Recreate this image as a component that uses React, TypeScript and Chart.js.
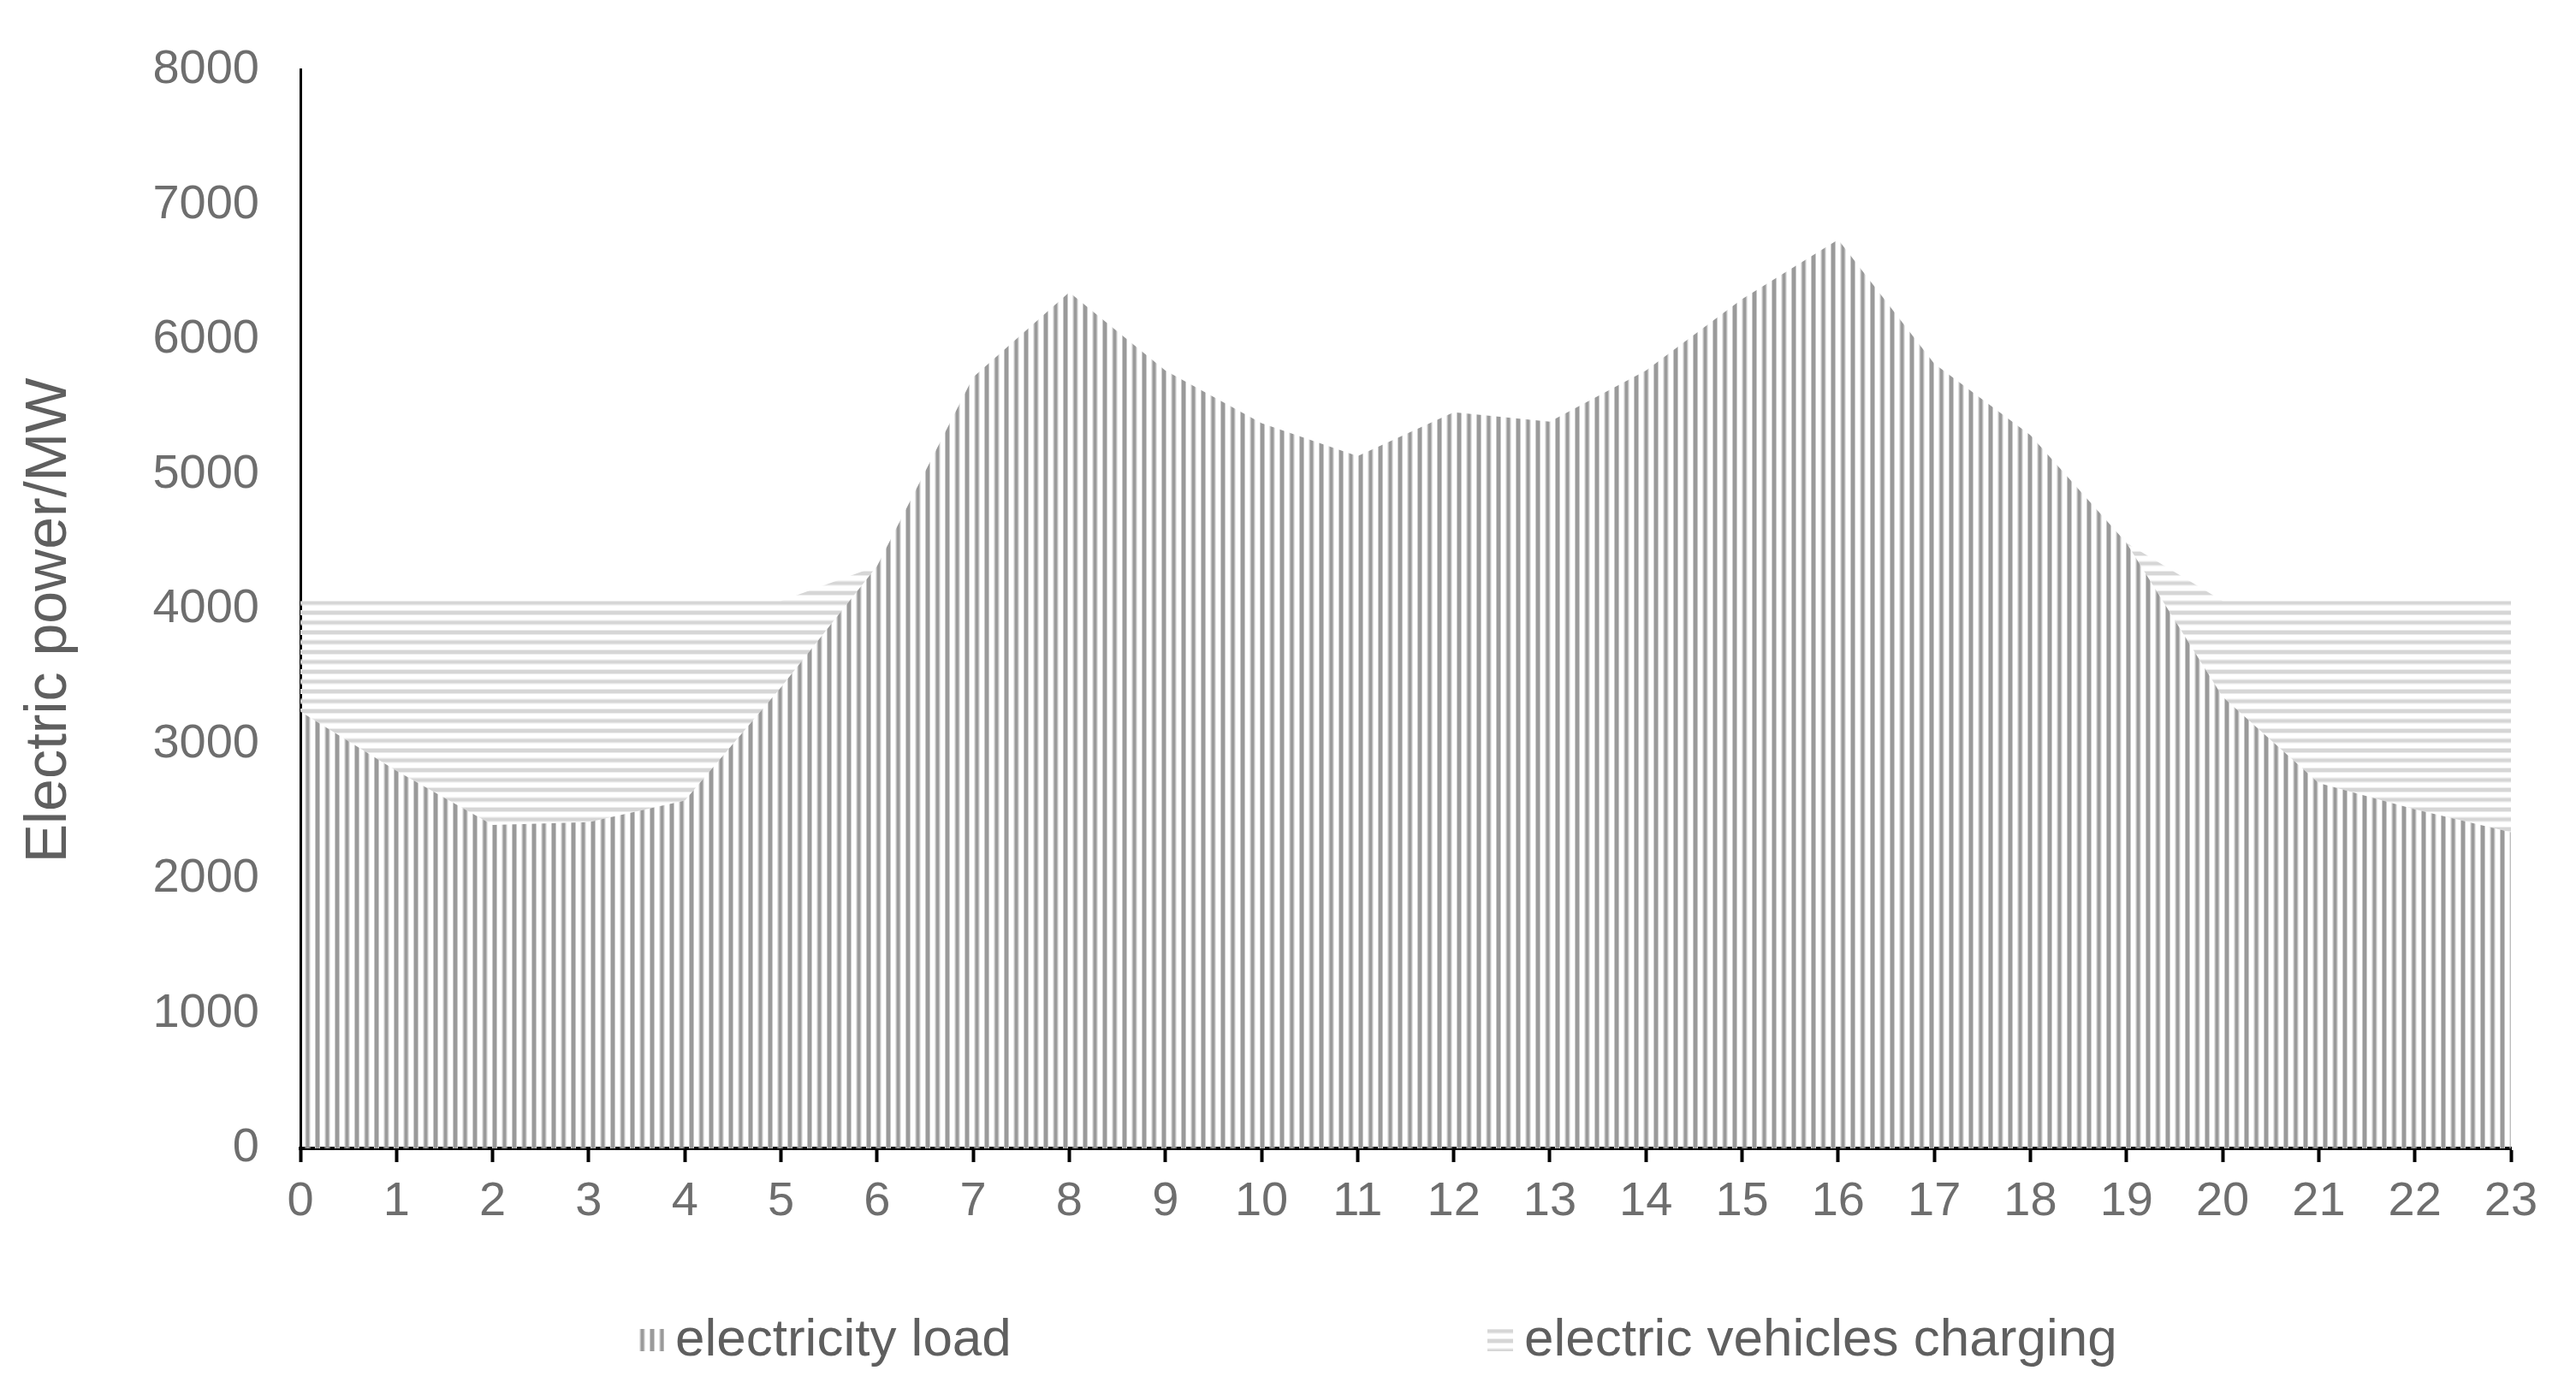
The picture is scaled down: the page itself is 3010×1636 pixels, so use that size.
import React, { useEffect, useRef } from 'react';
import { Chart, registerables } from 'chart.js';

Chart.register(...registerables);

// ---- data ----
const hours = ['0', '1', '2', '3', '4', '5', '6', '7', '8', '9', '10', '11', '12', '13', '14', '15', '16', '17', '18', '19', '20', '21', '22', '23'];
const electricityLoad = [3240, 2800, 2400, 2420, 2580, 3420, 4320, 5720, 6350, 5770, 5380, 5135, 5460, 5390, 5770, 6300, 6740, 5820, 5290, 4490, 3350, 2710, 2515, 2345];
const evCharging = [820, 1260, 1660, 1640, 1480, 640, 0, 0, 0, 0, 0, 0, 0, 0, 0, 0, 0, 0, 0, 0, 710, 1350, 1545, 1715];
const seriesNames = ['electricity load', 'electric vehicles charging'];
const yMin = 0;
const yMax = 8000;
const yStep = 1000;
const yTitle = 'Electric power/MW';

// ---- style / layout constants ----
const W = 3010;
const H = 1636;
const FONT = "'Liberation Sans', Arial, sans-serif";
const TICK_COLOR = '#6e6e6e';
const TEXT_COLOR = '#5f5f5f';

function verticalPattern(): CanvasPattern | string {
  const c = document.createElement('canvas');
  c.width = 23;
  c.height = 8;
  const g = c.getContext('2d');
  if (!g) return '#aaa';
  const stripe = (x: number) => {
    g.fillStyle = '#c9c9c9';
    g.fillRect(x, 0, 1, 8);
    g.fillRect(x + 5, 0, 1, 8);
    g.fillStyle = '#9a9a9a';
    g.fillRect(x + 1, 0, 4, 8);
  };
  stripe(0);
  stripe(11.5);
  return g.createPattern(c, 'repeat') as CanvasPattern;
}

function horizontalPattern(): CanvasPattern | string {
  const c = document.createElement('canvas');
  c.width = 8;
  c.height = 23;
  const g = c.getContext('2d');
  if (!g) return '#ddd';
  const stripe = (y: number) => {
    g.fillStyle = '#ececec';
    g.fillRect(0, y, 8, 1);
    g.fillRect(0, y + 5, 8, 1);
    g.fillStyle = '#d6d6d6';
    g.fillRect(0, y + 1, 8, 4);
  };
  stripe(0);
  stripe(11.5);
  return g.createPattern(c, 'repeat') as CanvasPattern;
}

export default function App() {
  const ref = useRef<HTMLCanvasElement | null>(null);

  useEffect(() => {
    const canvas = ref.current;
    if (!canvas) return;
    const vPat = verticalPattern();
    const hPat = horizontalPattern();

    const decorPlugin = {
      id: 'patternLegendAndTitle',
      afterDraw(chart: any) {
        const ctx = chart.ctx as CanvasRenderingContext2D;
        ctx.save();
        // y-axis title
        ctx.translate(58, 725);
        ctx.rotate(-Math.PI / 2);
        ctx.fillStyle = TEXT_COLOR;
        ctx.font = `68px ${FONT}`;
        ctx.textAlign = 'center';
        ctx.textBaseline = 'middle';
        ctx.fillText(yTitle, 0, 0);
        ctx.restore();

        // legend
        const cy = 1567;
        const items = [
          { text: seriesNames[0], fill: vPat, boxX: 746, textX: 789 },
          { text: seriesNames[1], fill: hPat, boxX: 1738, textX: 1781 },
        ];
        ctx.save();
        items.forEach((it) => {
          ctx.fillStyle = it.fill as any;
          ctx.fillRect(it.boxX, cy - 14, 30, 26);
          ctx.fillStyle = TEXT_COLOR;
          ctx.font = `62px ${FONT}`;
          ctx.textAlign = 'left';
          ctx.textBaseline = 'middle';
          ctx.fillText(it.text, it.textX, cy);
        });
        ctx.restore();
      },
    };

    const chart = new Chart(canvas, {
      type: 'line',
      data: {
        labels: hours,
        datasets: [
          {
            label: seriesNames[0],
            data: electricityLoad,
            backgroundColor: vPat as any,
            borderWidth: 0,
            pointRadius: 0,
            tension: 0,
            fill: 'origin',
          },
          {
            label: seriesNames[1],
            data: evCharging,
            backgroundColor: hPat as any,
            borderWidth: 0,
            pointRadius: 0,
            tension: 0,
            fill: '-1',
          },
        ],
      },
      options: {
        animation: false,
        responsive: false,
        devicePixelRatio: 1,
        layout: { padding: { left: 0, right: 76, top: 73, bottom: 174 } },
        plugins: {
          legend: { display: false },
          tooltip: { enabled: false },
          title: { display: false },
        },
        scales: {
          x: {
            type: 'category',
            offset: false,
            grid: {
              display: true,
              drawOnChartArea: false,
              drawTicks: true,
              tickLength: 16,
              tickWidth: 4,
              tickColor: '#000',
              color: '#000',
              offset: false,
            },
            border: { display: true, color: '#000', width: 4 },
            ticks: {
              color: TICK_COLOR,
              font: { family: FONT, size: 56 },
              padding: 13,
              maxRotation: 0,
              autoSkip: false,
            },
            afterFit: (s: any) => {
              s.height = 120;
            },
          },
          y: {
            stacked: true,
            min: yMin,
            max: yMax,
            grid: { display: false, drawTicks: false },
            border: { display: true, color: '#000', width: 3 },
            ticks: {
              stepSize: yStep,
              color: TICK_COLOR,
              font: { family: FONT, size: 56 },
              padding: 48,
              callback: (v: any) => String(v),
            },
            title: { display: false },
            afterFit: (s: any) => {
              s.width = 351;
            },
          },
        },
      },
      plugins: [decorPlugin],
    });

    return () => chart.destroy();
  }, []);

  return (
    <div style={{ position: 'fixed', left: 0, top: 0, width: W, height: H, background: '#fff' }}>
      <canvas ref={ref} width={W} height={H} style={{ display: 'block', width: W, height: H }} />
    </div>
  );
}
